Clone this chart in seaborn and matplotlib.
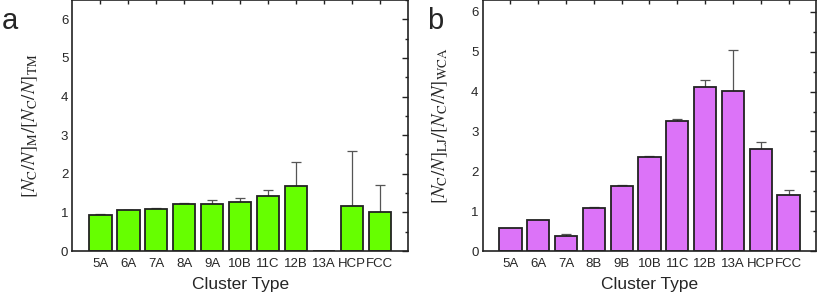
import numpy as np
import pandas as pd
import matplotlib
matplotlib.use("Agg")
import matplotlib.pyplot as plt
import seaborn as sns
from matplotlib.ticker import MultipleLocator

# ---- data ----
cats_a = ["5A", "6A", "7A", "8A", "9A", "10B", "11C", "12B", "13A", "HCP", "FCC"]
vals_a = [0.94, 1.05, 1.10, 1.23, 1.21, 1.26, 1.43, 1.68, 0.0, 1.17, 1.02]
errs_a = [0.01, 0.02, 0.01, 0.01, 0.12, 0.12, 0.16, 0.62, 0.0, 1.43, 0.70]

cats_b = ["5A", "6A", "7A", "8B", "9B", "10B", "11C", "12B", "13A", "HCP", "FCC"]
vals_b = [0.58, 0.78, 0.39, 1.09, 1.64, 2.36, 3.27, 4.11, 4.02, 2.55, 1.41]
errs_b = [0.0, 0.0, 0.03, 0.01, 0.01, 0.03, 0.05, 0.19, 1.02, 0.19, 0.13]

ylabel_a = r"$[N_{\rm C}/N]_{\rm M}/[N_{\rm C}/N]_{\rm TM}$"
ylabel_b = r"$[N_{\rm C}/N]_{\rm LJ}/[N_{\rm C}/N]_{\rm WCA}$"

sns.set_style("white")
plt.rcParams["font.family"] = ["Liberation Sans", "DejaVu Sans"]
plt.rcParams["mathtext.fontset"] = "stix"

fig = plt.figure(figsize=(8.18, 2.95), dpi=100)
ax_a = fig.add_axes([0.0886, 0.149, 0.410, 0.851])
ax_b = fig.add_axes([0.590, 0.149, 0.408, 0.851])


def panel(ax, cats, vals, errs, color, ylabel, ytop):
    df = pd.DataFrame({"cat": cats, "val": vals})
    sns.barplot(data=df, x="cat", y="val", order=cats, color=color,
                saturation=1, width=0.8, edgecolor="#222222", linewidth=1.3,
                errorbar=None, ax=ax, zorder=2)
    x = np.arange(len(cats))
    v = np.array(vals)
    e = np.array(errs)
    mask = e > 0
    ax.errorbar(x[mask], v[mask], yerr=[np.zeros(mask.sum()), e[mask]],
                fmt="none", ecolor="#555555", elinewidth=0.9, capsize=3.5,
                capthick=0.9, zorder=1)
    ax.set_xlim(-1, 11)
    ax.set_ylim(0, ytop)
    ax.yaxis.set_major_locator(MultipleLocator(1))
    ax.yaxis.set_minor_locator(MultipleLocator(0.5))
    ax.tick_params(axis="both", which="both", direction="in", top=True,
                   right=True, labelsize=9.5, pad=3, color="#222222")
    ax.tick_params(axis="both", which="major", length=4, width=1)
    ax.tick_params(axis="y", which="minor", length=2.5, width=1)
    ax.tick_params(axis="x", which="major", length=3, pad=5)
    for s in ax.spines.values():
        s.set_visible(True)
        s.set_color("#222222")
        s.set_linewidth(1.2)
    ax.set_xlabel("Cluster Type", fontsize=12.5, labelpad=5)
    ax.set_ylabel(ylabel, fontsize=13.5, labelpad=15)


panel(ax_a, cats_a, vals_a, errs_a, "#66FF00", ylabel_a, 6.5)
panel(ax_b, cats_b, vals_b, errs_b, "#DC73F8", ylabel_b, 6.3)

fig.text(2 / 818, 0.93, "a", fontsize=21, ha="left", va="center")
fig.text(427 / 818, 0.93, "b", fontsize=21, ha="left", va="center")

fig.savefig("out.png", dpi=100)
